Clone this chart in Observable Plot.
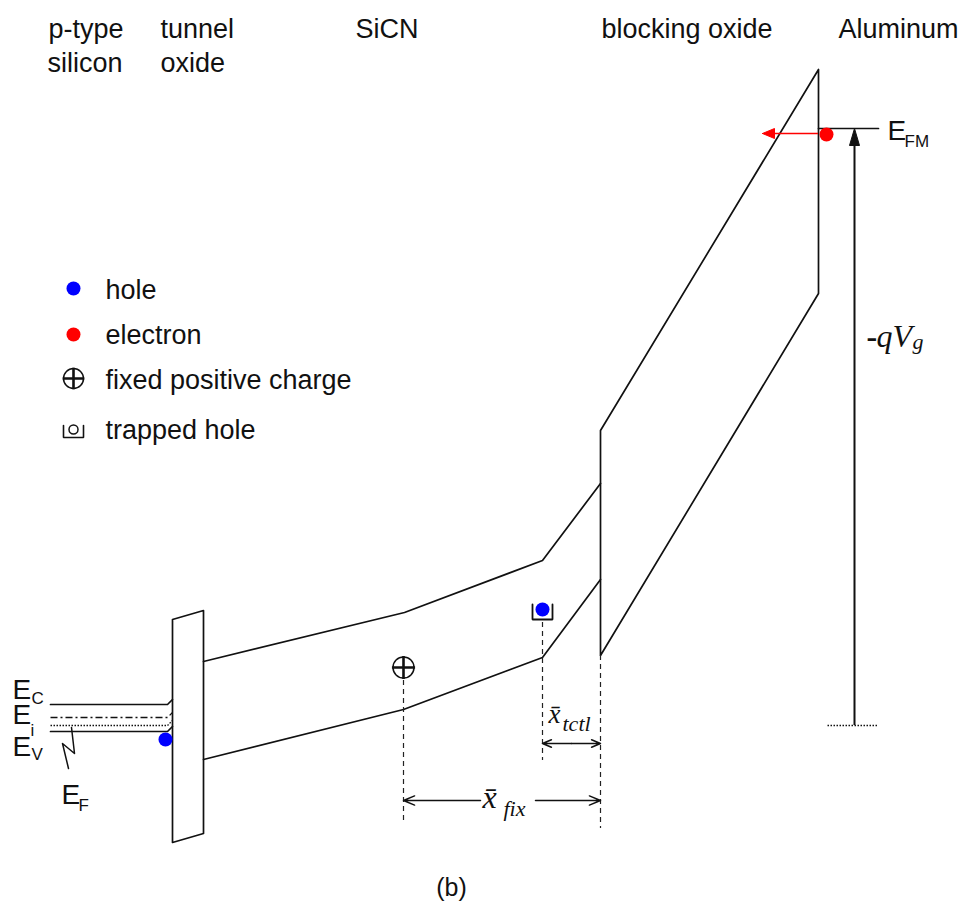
<!DOCTYPE html>
<html><head><meta charset="utf-8">
<script src="https://cdn.jsdelivr.net/npm/d3@7"></script>
<script src="https://cdn.jsdelivr.net/npm/@observablehq/plot@0.6"></script>
<style>body{margin:0;background:#fff}</style>
</head><body><div id="chart"></div>
<script>
// Schematic band diagram; x = position across the stack, y = electron energy depth (down = lower energy)
const siliconEc = [[50,704],[167,704],[172,699]];
const siliconEi = [[50,717],[167,717],[172,712]];
const siliconEF = [[50,725],[167,725],[172,720]];
const siliconEv = [[50,731],[167,731],[172,726]];
const efPointer = [[71,727],[74,753],[62,743],[68,768]];
const tunnelOxide = [[172,619],[203,610],[203,833],[172,842],[172,619]];
const sicnCB = [[203,661],[404,612],[542,560],[600,483]];
const sicnVB = [[203,759],[403,709],[542,657],[600,579]];
const blockingOxide = [[600,430],[818,69],[818,293],[600,655],[600,430]];
const metalEFM = [[818,128],[878,128]];

const dashX = [403, 542, 600];
const dashTop = [680, 622, 655];
const dashBottom = [822, 760, 828];

const dimArrows = [
  {x1:571, x2:542, y:743}, {x1:571, x2:600, y:743},
  {x1:480, x2:403, y:800}, {x1:535, x2:600, y:800}
];
const gateArrow = {x:854, from:725, to:128};
const gateBase = [[827,725],[877,725]];
const electronArrow = {y:133, from:818, to:762};

const holes = [[165,739],[542,609]];
const electrons = [[826,134]];
const fixedCharges = [[403,667]];
const traps = [[542,609]];

const legendLabels = ["hole","electron","fixed positive charge","trapped hole"];
const legendY = [298, 343, 388, 438];
const legendMarkY = [288, 334, 378, 429];

const headerText = ["p-type","silicon","tunnel","oxide","SiCN","blocking oxide","Aluminum"];
const headerX = [48, 47, 160, 160, 355, 601, 838];
const headerY = [37, 71, 37, 71, 37, 37, 37];

const bandLabels = ["E","E","E","E","E"];
const bandLabelX = [12, 12, 12, 61, 887];
const bandLabelY = [698, 723, 755, 803, 139];
const bandSubs = ["C","i","V","F","FM"];
const bandSubX = [31, 30, 31, 78, 904];
const bandSubY = [703, 735, 759, 810, 146];

const sans = "Liberation Sans, Arial, Helvetica, sans-serif";
const serif = "Liberation Serif, Times New Roman, serif";

function headTri(tip, from, len, w) {
  const dx = tip[0]-from[0], dy = tip[1]-from[1];
  const L = Math.hypot(dx, dy), ux = dx/L, uy = dy/L;
  const bx = tip[0]-ux*len, by = tip[1]-uy*len;
  return [tip, [bx - uy*w, by + ux*w], [bx + uy*w, by - ux*w], tip];
}
function trapShape(c, top, bottom, half) {
  return [[c[0]-half, c[1]+top],[c[0]-half, c[1]+bottom],[c[0]+half, c[1]+bottom],[c[0]+half, c[1]+top]];
}

const X = d => d[0], Y = d => d[1];
const ln = (data, o={}) => Plot.line(data, {x:X, y:Y, stroke:"#111", strokeWidth:1.7, ...o});

const gateHead = headTri([gateArrow.x, gateArrow.to], [gateArrow.x, gateArrow.from], 17, 5);
const elecHead = headTri([electronArrow.to, electronArrow.y], [electronArrow.from, electronArrow.y], 12, 5);

const chart = Plot.plot({
  width: 973, height: 913,
  margin: 0,
  x: {domain:[0,973], range:[0,973], axis:null},
  y: {domain:[0,913], range:[0,913], axis:null},
  style: {background:"#fff"},
  marks: [
    // silicon bands
    ln(siliconEc),
    ln(siliconEi, {strokeDasharray:"7,3,2,3", strokeWidth:1.3, strokeLinecap:"butt"}),
    ln(siliconEF, {strokeDasharray:"1.5,1.5", strokeWidth:1.3, strokeLinecap:"butt"}),
    ln(siliconEv),
    ln(efPointer, {strokeWidth:1.5}),
    // oxides and SiCN
    ln(tunnelOxide),
    ln(sicnCB), ln(sicnVB),
    ln(blockingOxide),
    ln(metalEFM),
    // dashed guides
    Plot.ruleX(dashX, {x: d=>d, y1:(d,i)=>dashTop[i], y2:(d,i)=>dashBottom[i], stroke:"#222", strokeWidth:1.2, strokeDasharray:"5,4"}),
    // dimension arrows
    Plot.arrow(dimArrows, {x1:"x1", x2:"x2", y1:"y", y2:"y", stroke:"#111", strokeWidth:1.5, headAngle:45, headLength:12}),
    // gate voltage arrow
    Plot.ruleX([gateArrow], {x:"x", y1:"from", y2: d=>d.to+14, stroke:"#111", strokeWidth:2}),
    ln(gateHead, {fill:"#111", strokeWidth:1}),
    ln(gateBase, {strokeDasharray:"1.5,1.5", strokeWidth:1.3, strokeLinecap:"butt"}),
    // electron injection arrow
    Plot.ruleY([electronArrow], {y:"y", x1:"from", x2: d=>d.to+10, stroke:"#f00", strokeWidth:1.7}),
    ln(elecHead, {fill:"#f00", stroke:"#f00", strokeWidth:1}),
    // carriers and charges
    Plot.dot(fixedCharges, {x:X, y:Y, r:10.5, fill:"#fff", stroke:"#111", strokeWidth:1.5}),
    Plot.dot(fixedCharges, {x:X, y:Y, r:7.5, symbol:"plus", stroke:"#111", strokeWidth:2.6}),
    ...traps.map(t => ln(trapShape(t, -5, 10, 10), {strokeWidth:1.8, strokeLinejoin:"miter"})),
    Plot.dot(holes, {x:X, y:Y, r:7, fill:"#0000ff"}),
    Plot.dot(electrons, {x:X, y:Y, r:7, fill:"#ff0000"}),
    // legend
    Plot.dot([legendMarkY[0]], {x:()=>73, y:d=>d, r:7, fill:"#0000ff"}),
    Plot.dot([legendMarkY[1]], {x:()=>73, y:d=>d, r:7, fill:"#ff0000"}),
    Plot.dot([legendMarkY[2]], {x:()=>73, y:d=>d, r:10, fill:"#fff", stroke:"#111", strokeWidth:1.5}),
    Plot.dot([legendMarkY[2]], {x:()=>73, y:d=>d, r:7, symbol:"plus", stroke:"#111", strokeWidth:2.6}),
    ln(trapShape([73, legendMarkY[3]], -4, 8, 10), {strokeWidth:1.6, strokeLinejoin:"miter"}),
    Plot.dot([legendMarkY[3]], {x:()=>73, y:d=>d, r:4.5, fill:"none", stroke:"#111", strokeWidth:1.5}),
    Plot.text(legendLabels, {x:()=>105, y:(d,i)=>legendY[i], text:d=>d, textAnchor:"start", lineAnchor:"bottom", fontSize:27, fontFamily:sans, fill:"#111"}),
    // headers
    Plot.text(headerText, {x:(d,i)=>headerX[i], y:(d,i)=>headerY[i], text:d=>d, textAnchor:"start", lineAnchor:"bottom", fontSize:27, fontFamily:sans, fill:"#111"}),
    // band labels
    Plot.text(bandLabels, {x:(d,i)=>bandLabelX[i], y:(d,i)=>bandLabelY[i], text:d=>d, textAnchor:"start", lineAnchor:"bottom", fontSize:28, fontFamily:sans, fill:"#111"}),
    Plot.text(bandSubs, {x:(d,i)=>bandSubX[i], y:(d,i)=>bandSubY[i], text:d=>d, textAnchor:"start", lineAnchor:"bottom", fontSize:17, fontFamily:sans, fill:"#111"}),
    // math labels
    Plot.text(["-"], {x:()=>866, y:()=>346, text:d=>d, textAnchor:"start", lineAnchor:"bottom", fontSize:32, fontFamily:serif, fontWeight:"bold", fill:"#111"}),
    Plot.text(["qV"], {x:()=>876, y:()=>346, text:d=>d, textAnchor:"start", lineAnchor:"bottom", fontSize:32, fontFamily:serif, fontStyle:"italic", fill:"#111"}),
    Plot.text(["g"], {x:()=>912, y:()=>348, text:d=>d, textAnchor:"start", lineAnchor:"bottom", fontSize:22, fontFamily:serif, fontStyle:"italic", fill:"#111"}),
    Plot.text(["x\u0304"], {x:()=>548, y:()=>722, text:d=>d, textAnchor:"start", lineAnchor:"bottom", fontSize:27, fontFamily:serif, fontStyle:"italic", fill:"#111"}),
    Plot.text(["tctl"], {x:()=>562, y:()=>730, text:d=>d, textAnchor:"start", lineAnchor:"bottom", fontSize:22, fontFamily:serif, fontStyle:"italic", fill:"#111"}),
    Plot.text(["x\u0304"], {x:()=>482, y:()=>807, text:d=>d, textAnchor:"start", lineAnchor:"bottom", fontSize:32, fontFamily:serif, fontStyle:"italic", fill:"#111"}),
    Plot.text(["fix"], {x:()=>503, y:()=>815, text:d=>d, textAnchor:"start", lineAnchor:"bottom", fontSize:22, fontFamily:serif, fontStyle:"italic", fill:"#111"}),
    // caption
    Plot.text(["(b)"], {x:()=>451, y:()=>895, text:d=>d, textAnchor:"middle", lineAnchor:"bottom", fontSize:25, fontFamily:sans, fill:"#111"})
  ]
});
document.getElementById("chart").append(chart);
</script>
</body></html>
